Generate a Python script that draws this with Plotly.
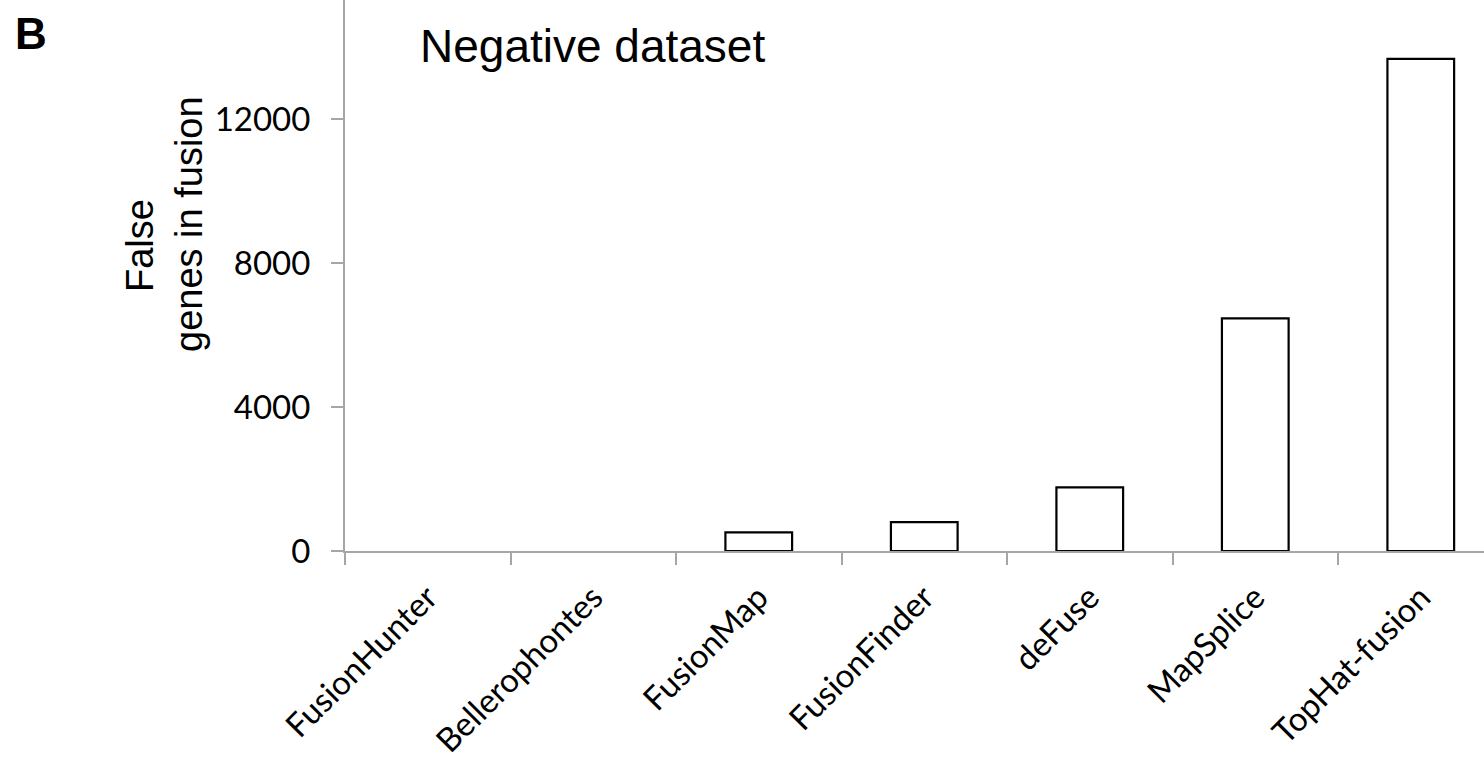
import plotly.graph_objects as go

categories = ["FusionHunter", "Bellerophontes", "FusionMap", "FusionFinder",
              "deFuse", "MapSplice", "TopHat-fusion"]
values = [0, 0, 520, 800, 1770, 6460, 13670]
y_ticks = [0, 4000, 8000, 12000]

AX = "#a6a6a6"

# zero-valued bars are not drawn (no outline on the baseline)
y_plot = [v if v > 0 else None for v in values]

fig = go.Figure()
fig.add_trace(go.Bar(
    x=categories, y=y_plot, width=0.403,
    marker=dict(color="white", line=dict(color="black", width=2.2)),
))

fig.update_layout(
    width=1484, height=764,
    margin=dict(l=345, r=0, t=0, b=213, autoexpand=False),
    paper_bgcolor="white", plot_bgcolor="white",
    showlegend=False,
    xaxis=dict(
        range=[-0.5, 6.382], showline=True, linecolor=AX, linewidth=2,
        ticks="outside", tickson="boundaries", ticklen=12, tickcolor=AX, tickwidth=2,
        tickangle=-45, tickfont=dict(family="Lato", size=33, color="black"),
        showgrid=False, zeroline=False, ticklabelstandoff=12, automargin=False,
    ),
    yaxis=dict(
        range=[0, 15306], tickvals=y_ticks, ticktext=[str(v) for v in y_ticks],
        showline=True, linecolor=AX, linewidth=2,
        ticks="outside", ticklen=12, tickcolor=AX, tickwidth=2,
        tickfont=dict(family="Lato", size=33, color="black"),
        showgrid=False, zeroline=False, ticklabelstandoff=14, automargin=False,
    ),
    annotations=[
        dict(text="Negative dataset", xref="paper", yref="paper",
             x=(418 - 345) / 1139, y=1 - 46 / 551, xanchor="left", yanchor="middle",
             showarrow=False, font=dict(family="Liberation Sans", size=46, color="black")),
        dict(text="<b>B</b>", xref="paper", yref="paper",
             x=(13 - 345) / 1139, y=1 - 34 / 551, xanchor="left", yanchor="middle",
             showarrow=False, font=dict(family="Liberation Sans", size=44, color="black")),
        dict(text="False", xref="paper", yref="paper", textangle=-90,
             x=(140 - 345) / 1139, y=1 - 246 / 551, xanchor="center", yanchor="middle",
             showarrow=False, font=dict(family="Liberation Sans", size=38, color="black")),
        dict(text="genes in fusion", xref="paper", yref="paper", textangle=-90,
             x=(189 - 345) / 1139, y=1 - 224 / 551, xanchor="center", yanchor="middle",
             showarrow=False, font=dict(family="Liberation Sans", size=38, color="black")),
    ],
)

fig.write_html("out.html")
